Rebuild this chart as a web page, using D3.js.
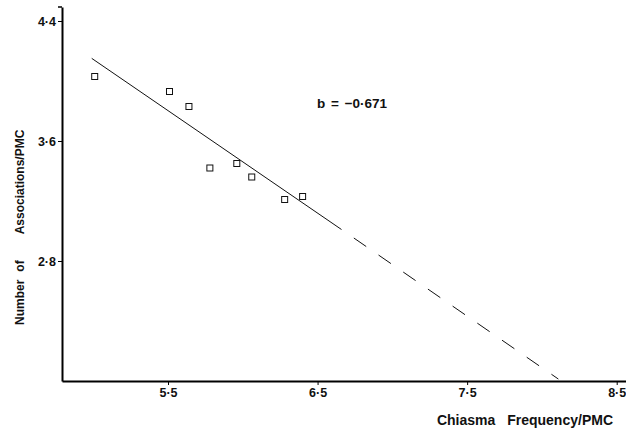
<!DOCTYPE html>
<html>
<head>
<meta charset="utf-8">
<script src="https://cdn.jsdelivr.net/npm/d3@7"></script>
<style>
  body { margin: 0; background: #fff; }
  text { font-family: "Liberation Sans", Arial, sans-serif; font-weight: bold; fill: #111; }
</style>
</head>
<body>
<svg id="chart"></svg>
<script>
// chiasma frequency per PMC vs number of associations per PMC
const chiasma = [5.01, 5.51, 5.64, 5.78, 5.96, 6.06, 6.28, 6.40];
const associations = [4.03, 3.93, 3.83, 3.42, 3.45, 3.36, 3.21, 3.23];

// fitted line: solid over the data, dashed extrapolation
const fitX = [4.99, 6.66, 8.11];
const fitY = [4.151, 3.01, 2.013];

const xTicks = [5.5, 6.5, 7.5, 8.5];
const yTicks = [2.8, 3.6, 4.4];
const slopeLabel = "b = \u22120\u00b7671";

const width = 626, height = 432;

const svg = d3.select("#chart")
    .attr("width", width)
    .attr("height", height);

const x = d3.scaleLinear().domain([5.5, 8.5]).range([168, 616.7]);
const y = d3.scaleLinear().domain([2.8, 4.4]).range([261, 21]);

const x0 = x.invert(62), x1 = x.invert(626);
const y0 = y.invert(381), y1 = y.invert(7);

const dot = d => d3.format(".1f")(d).replace(".", "\u00b7");

// x axis
const xAxis = svg.append("g")
    .attr("transform", `translate(0,${y(y0)})`)
    .call(d3.axisBottom(x.copy().domain([x0, x1]).range([x(x0), x(x1)]))
        .tickValues(xTicks).tickFormat(dot).tickSize(4).tickSizeOuter(0).tickPadding(3));
xAxis.select(".domain").attr("stroke-width", 2);
xAxis.selectAll("text").attr("font-size", 12.5).attr("font-family", "Liberation Sans, Arial, sans-serif").attr("font-weight", "bold");

// y axis
const yAxis = svg.append("g")
    .attr("transform", `translate(${x(x0)},0)`)
    .call(d3.axisLeft(y.copy().domain([y0, y1]).range([y(y0), y(y1)]))
        .tickValues(yTicks).tickFormat(dot).tickSize(4).tickSizeOuter(0).tickPadding(2));
yAxis.select(".domain").attr("stroke-width", 2);
yAxis.selectAll("text").attr("font-size", 12.5).attr("font-family", "Liberation Sans, Arial, sans-serif").attr("font-weight", "bold");
yAxis.append("line")
    .attr("x1", -4).attr("x2", 0)
    .attr("y1", y(y1)).attr("y2", y(y1))
    .attr("stroke", "#000").attr("stroke-width", 1.5);

// regression line
const line = d3.line().x(d => x(d[0])).y(d => y(d[1]));
svg.append("path")
    .attr("d", line([[fitX[0], fitY[0]], [fitX[1], fitY[1]]]))
    .attr("fill", "none").attr("stroke", "#111").attr("stroke-width", 1);
svg.append("path")
    .attr("d", line([[fitX[1], fitY[1]], [fitX[2], fitY[2]]]))
    .attr("fill", "none").attr("stroke", "#111").attr("stroke-width", 1)
    .attr("stroke-dasharray", "15,15").attr("stroke-dashoffset", -15);

// data points
svg.append("g")
    .selectAll("rect")
    .data(chiasma)
    .join("rect")
    .attr("x", (d, i) => x(d) - 3)
    .attr("y", (d, i) => y(associations[i]) - 3)
    .attr("width", 6)
    .attr("height", 6)
    .attr("fill", "none")
    .attr("stroke", "#111")
    .attr("stroke-width", 1);

// labels
svg.append("text")
    .attr("x", 317).attr("y", 108)
    .attr("font-size", 13.5)
    .attr("word-spacing", 2)
    .text(slopeLabel);

svg.append("text")
    .attr("x", 613).attr("y", 425)
    .attr("text-anchor", "end")
    .attr("font-size", 14)
    .attr("word-spacing", 8)
    .text("Chiasma Frequency/PMC");

const yTitle = svg.append("text")
    .attr("transform", "translate(24,325) rotate(-90)")
    .attr("font-size", 12);
yTitle.append("tspan").text("Number");
yTitle.append("tspan").attr("dx", 8).text("of");
yTitle.append("tspan").attr("dx", 26).text("Associations/PMC");
</script>
</body>
</html>
